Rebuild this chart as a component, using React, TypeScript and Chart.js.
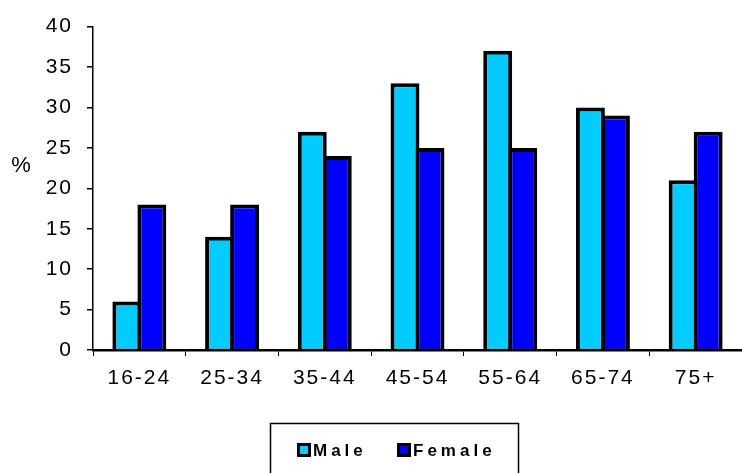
import React, { useEffect, useRef } from "react";
import { Chart, registerables } from "chart.js";
Chart.register(...registerables);

const categories = ["16-24", "25-34", "35-44", "45-54", "55-64", "65-74", "75+"];
const maleValues = [6, 14, 27, 33, 37, 30, 21];
const femaleValues = [18, 18, 24, 25, 25, 29, 27];
const seriesNames = ["Male", "Female"];
const seriesColors = ["#00CCFF", "#0000FF"];
const yMin = 0;
const yMax = 40;
const yStep = 5;
const yTitle = "%";

const FONT = "'Liberation Sans', Arial, sans-serif";

const spacingPlugin = {
  id: "spacing",
  beforeLayout(chart: any) {
    chart.ctx.letterSpacing = "2px";
  },
  beforeDraw(chart: any) {
    chart.ctx.letterSpacing = "2px";
  },
};

const extrasPlugin = {
  id: "extras",
  afterDraw(chart: any) {
    const ctx = chart.ctx;
    ctx.save();
    ctx.letterSpacing = "0px";
    // y title
    ctx.fillStyle = "#000";
    ctx.font = `22px ${FONT}`;
    ctx.textAlign = "center";
    ctx.textBaseline = "middle";
    ctx.fillText(yTitle, 21, 166);
    // legend box
    ctx.strokeStyle = "#000";
    ctx.lineWidth = 1.5;
    ctx.strokeRect(270.5, 423.5, 248, 70);
    const markerX = [297, 397];
    const textX = [313, 413];
    ctx.font = `bold 17px ${FONT}`;
    ctx.textAlign = "left";
    ctx.letterSpacing = "4px";
    chart.data.datasets.forEach((ds: any, i: number) => {
      ctx.fillStyle = "#000";
      ctx.fillRect(markerX[i], 443, 14, 14);
      ctx.fillStyle = ds.backgroundColor;
      ctx.fillRect(markerX[i] + 3, 446, 8, 8);
      ctx.fillStyle = "#000";
      ctx.fillText(ds.label, textX[i], 451);
    });
    ctx.restore();
  },
};

export default function App() {
  const ref = useRef<HTMLCanvasElement>(null);
  useEffect(() => {
    if (!ref.current) return;
    const chart = new Chart(ref.current, {
      type: "bar",
      data: {
        labels: categories,
        datasets: [
          {
            label: seriesNames[0],
            data: maleValues,
            backgroundColor: seriesColors[0],
            borderColor: "#000",
            borderWidth: 4,
            categoryPercentage: 0.54,
            barPercentage: 1.155,
          },
          {
            label: seriesNames[1],
            data: femaleValues,
            backgroundColor: seriesColors[1],
            borderColor: "#000",
            borderWidth: 4,
            categoryPercentage: 0.54,
            barPercentage: 1.155,
          },
        ],
      },
      options: {
        animation: false,
        responsive: false,
        devicePixelRatio: 1,
        layout: { padding: { top: 25, right: 0, left: 0, bottom: 0 } },
        plugins: {
          legend: { display: false },
          tooltip: { enabled: false },
        },
        scales: {
          x: {
            grid: {
              drawOnChartArea: false,
              drawTicks: true,
              tickLength: 6,
              color: "#000",
              lineWidth: 1,
              offset: true,
            },
            border: { display: true, color: "#000", width: 2.5 },
            ticks: {
              color: "#000",
              font: { family: FONT, size: 21 },
              padding: 10,
              maxRotation: 0,
            },
            afterFit(scale: any) {
              scale.height = 123;
            },
          },
          y: {
            min: yMin,
            max: yMax,
            grid: {
              drawOnChartArea: false,
              drawTicks: true,
              tickLength: 6,
              color: "#000",
              lineWidth: 1.5,
            },
            border: { display: true, color: "#000", width: 1.5 },
            ticks: {
              stepSize: yStep,
              color: "#000",
              font: { family: FONT, size: 21 },
              padding: 14,
            },
            afterFit(scale: any) {
              scale.width = 93;
            },
          },
        },
      },
      plugins: [spacingPlugin, extrasPlugin],
    });
    return () => chart.destroy();
  }, []);
  return (
    <div style={{ position: "absolute", left: 0, top: 0, width: 742, height: 473, background: "#fff" }}>
      <canvas ref={ref} width={742} height={473} style={{ display: "block" }} />
    </div>
  );
}
